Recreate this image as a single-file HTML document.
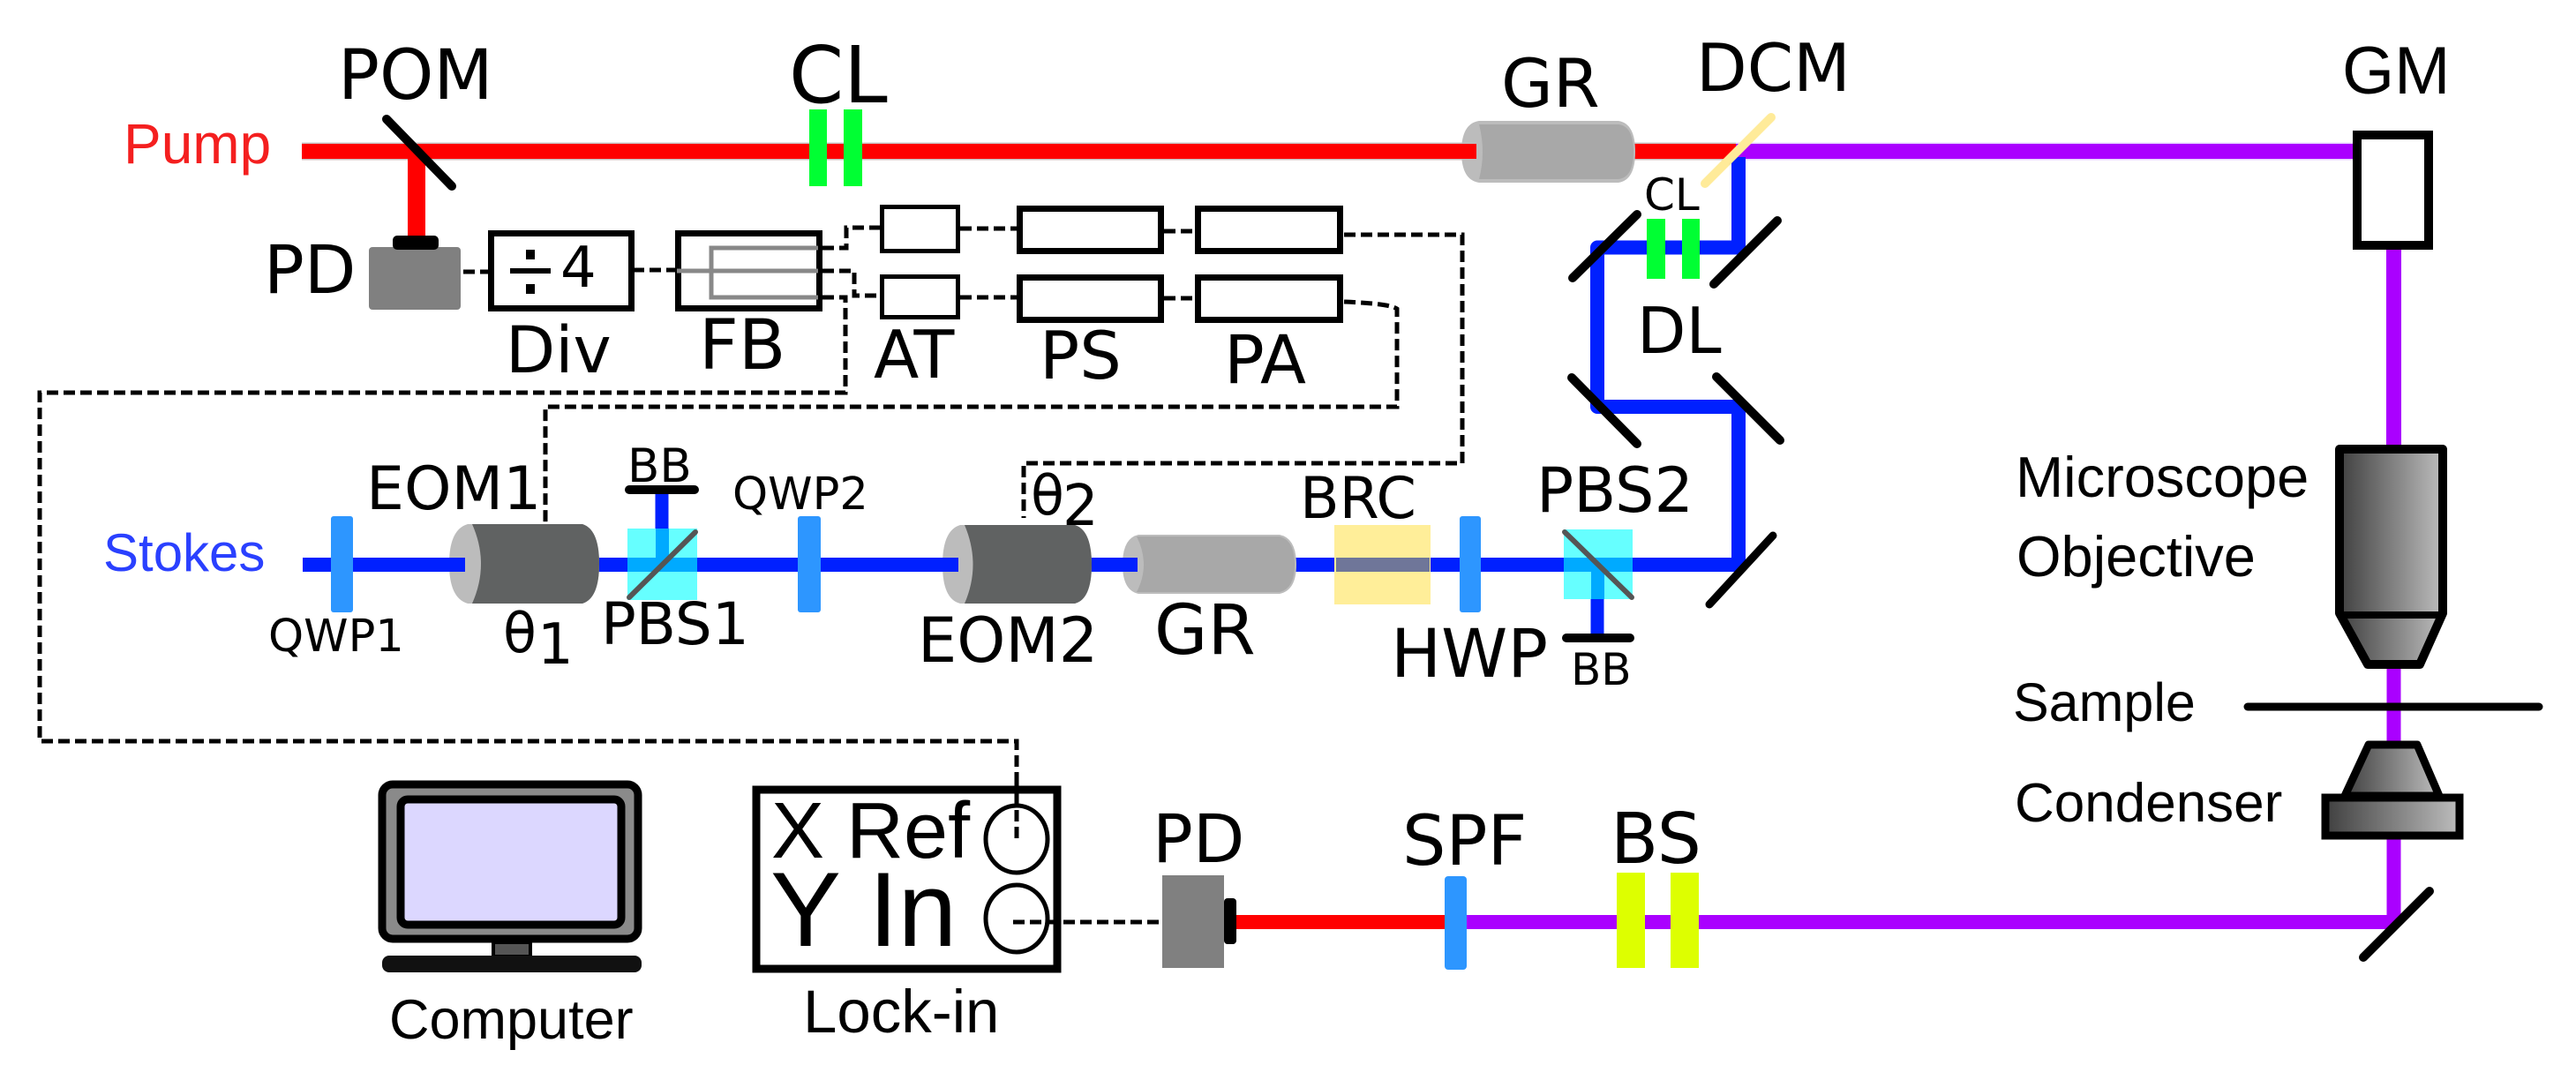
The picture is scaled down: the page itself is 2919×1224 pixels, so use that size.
<!DOCTYPE html>
<html>
<head>
<meta charset="utf-8">
<style>
html,body{margin:0;padding:0;background:#fff;}
svg{display:block;}
.d{font-family:"DejaVu Sans",sans-serif;fill:#000;}
.l{font-family:"Liberation Sans",sans-serif;fill:#000;}
.dash{fill:none;stroke:#000;stroke-width:5;stroke-dasharray:13 6;}
.box{fill:#fff;stroke:#000;}
</style>
</head>
<body>
<svg width="2919" height="1224" viewBox="0 0 2919 1224" xmlns="http://www.w3.org/2000/svg">
<defs>
<linearGradient id="g1" x1="0" x2="1" y1="0" y2="0"><stop offset="0" stop-color="#404040"/><stop offset="1" stop-color="#bdbdbd"/></linearGradient>
</defs>
<rect width="2919" height="1224" fill="#fff"/>

<!-- dashed signals -->
<path class="dash" d="M506 308H555"/>
<path class="dash" d="M717 306H767"/>
<path class="dash" d="M932 281H959V258H997"/>
<path class="dash" d="M932 307H968V335H994"/>
<path class="dash" d="M932 337H958V445H45V840H1152V956"/>
<path class="dash" d="M1523 342Q1575 344 1583 350V461H618V595"/>
<path class="dash" d="M1523 266H1657V525H1160V587"/>
<path class="dash" d="M1088 259H1152M1088 337H1152M1319 262H1354M1319 338H1354"/>
<path class="dash" d="M1148 1045H1317"/>

<!-- pump beam -->
<path d="M342 171.5H1967" stroke="#c9c0c0" stroke-width="20" fill="none"/>
<path d="M342 171.5H1967" stroke="#ff0000" stroke-width="17" fill="none"/>
<path d="M472 178V268" stroke="#ff0000" stroke-width="20" fill="none"/>
<path d="M1967 171.5H2668" stroke="#e6d2ff" stroke-width="20" fill="none"/>
<path d="M1967 171.5H2668" stroke="#aa00ff" stroke-width="17" fill="none"/>
<path d="M2712.5 283V505" stroke="#aa00ff" stroke-width="17" fill="none"/>
<path d="M2712.5 755V840M2712.5 950V1045" stroke="#aa00ff" stroke-width="16" fill="none"/>

<!-- delay line beams -->
<path d="M1970 178V280.5H1810V461H1970V640" stroke="#0020ff" stroke-width="16" fill="none" stroke-linejoin="round"/>

<!-- stokes beam -->
<path d="M343 640H1975" stroke="#0020ff" stroke-width="16" fill="none"/>
<path d="M750 558V640" stroke="#0020ff" stroke-width="15" fill="none"/>
<path d="M1810 640V720" stroke="#0020ff" stroke-width="15" fill="none"/>

<!-- bottom beams -->
<path d="M1401 1045H1640" stroke="#ff0000" stroke-width="16" fill="none"/>
<path d="M1650 1045H2716" stroke="#aa00ff" stroke-width="16" fill="none"/>

<!-- POM / PD -->
<path d="M438 135L512 211" stroke="#000" stroke-width="10" stroke-linecap="round"/>
<rect x="418" y="280" width="104" height="71" rx="4" fill="#808080"/>
<rect x="445" y="267" width="52" height="16" rx="5" fill="#000"/>

<!-- CL top -->
<rect x="917" y="124" width="20" height="87" fill="#00ff33"/>
<rect x="956" y="124" width="21" height="87" fill="#00ff33"/>

<!-- Div -->
<rect class="box" x="556.5" y="264.5" width="159" height="85" stroke-width="7"/>
<rect x="578" y="304" width="46" height="6" fill="#000"/>
<rect x="596" y="283" width="10" height="11" fill="#000"/>
<rect x="596" y="322" width="10" height="11" fill="#000"/>
<text class="d" x="635" y="325" font-size="64">4</text>

<!-- FB -->
<rect class="box" x="768.5" y="264.5" width="160" height="85" stroke-width="7"/>
<path d="M927 281H806V337H927M767 307H927" fill="none" stroke="#888" stroke-width="5"/>

<!-- AT PS PA -->
<rect class="box" x="999.5" y="234.5" width="86" height="50" stroke-width="5"/>
<rect class="box" x="999.5" y="313.5" width="86" height="46" stroke-width="5"/>
<rect class="box" x="1155.5" y="236.5" width="160" height="48" stroke-width="7"/>
<rect class="box" x="1155.5" y="314.5" width="160" height="48" stroke-width="7"/>
<rect class="box" x="1357.5" y="236.5" width="161" height="48" stroke-width="7"/>
<rect class="box" x="1357.5" y="314.5" width="161" height="48" stroke-width="7"/>

<!-- GR top -->
<path d="M1676 137H1834Q1853 140 1853 172Q1853 204 1834 207H1676Q1656 204 1656 172Q1656 140 1676 137Z" fill="#bcbcbc"/>
<path d="M1676 141H1834Q1851 143 1851 172Q1851 201 1834 203H1676Q1684 172 1676 141Z" fill="#a8a8a8"/>
<path d="M1656 171.5H1673" stroke="#ff0000" stroke-width="17"/>

<!-- DCM -->
<path d="M1932 208L2007 133" stroke="#ffeb99" stroke-width="10" stroke-linecap="round"/>

<!-- DL mirrors and lenses -->
<path d="M1782 315L1855 243M1942 322L2014 250M1781 428L1855 503M1945 427L2017 499" stroke="#000" stroke-width="10" stroke-linecap="round"/>
<rect x="1866" y="248" width="21" height="68" fill="#00ff33"/>
<rect x="1906" y="248" width="20" height="68" fill="#00ff33"/>
<path d="M2009 607L1937 685" stroke="#000" stroke-width="9" stroke-linecap="round"/>

<!-- GM -->
<rect class="box" x="2671" y="153" width="81" height="125" stroke-width="10"/>

<!-- Objective -->
<path d="M2651 509H2768V695L2742 753H2683L2651 695Z" fill="url(#g1)" stroke="#000" stroke-width="10" stroke-linejoin="round"/>
<path d="M2650 697H2769" stroke="#000" stroke-width="8"/>
<path d="M2547 801H2877" stroke="#000" stroke-width="9" stroke-linecap="round"/>
<path d="M2712.5 758V796M2712.5 806V840" stroke="#aa00ff" stroke-width="16"/>

<!-- Condenser -->
<path d="M2684 844H2739L2764 902H2657Z" fill="url(#g1)" stroke="#000" stroke-width="9" stroke-linejoin="round"/>
<rect x="2635" y="904" width="152" height="43" fill="url(#g1)" stroke="#000" stroke-width="9"/>
<path d="M2753 1010L2678 1085" stroke="#000" stroke-width="10" stroke-linecap="round"/>

<!-- QWP1 -->
<rect x="375" y="585" width="25" height="109" rx="3" fill="#2d96ff"/>

<!-- EOM1 -->
<path d="M530 594H660Q679 600 679 639Q679 678 660 684H530Q509 678 509 639Q509 600 530 594Z" fill="#bcbcbc"/>
<path d="M535 594H660Q679 600 679 639Q679 678 660 684H535Q555 639 535 594Z" fill="#606262"/>
<path d="M509 640H527" stroke="#0020ff" stroke-width="16"/>

<!-- PBS1 -->
<rect x="711" y="599" width="79" height="81" fill="#66ffff"/>
<rect x="711" y="632" width="79" height="16" fill="#00aaff"/>
<rect x="743" y="599" width="15" height="33" fill="#00aaff"/>
<path d="M788 603L713 677" stroke="#555" stroke-width="6" stroke-linecap="round"/>
<path d="M713 555H787" stroke="#000" stroke-width="10" stroke-linecap="round"/>

<!-- QWP2 -->
<rect x="904" y="585" width="26" height="109" rx="3" fill="#2d96ff"/>

<!-- EOM2 -->
<path d="M1088 595H1218Q1237 601 1237 640Q1237 679 1218 684H1088Q1068 679 1068 640Q1068 601 1088 595Z" fill="#bcbcbc"/>
<path d="M1093 595H1218Q1237 601 1237 640Q1237 679 1218 684H1093Q1112 640 1093 595Z" fill="#606262"/>
<path d="M1068 640H1086" stroke="#0020ff" stroke-width="16"/>

<!-- GR2 -->
<path d="M1290 606H1450Q1469 610 1469 640Q1469 669 1450 673H1290Q1272 669 1272 640Q1272 610 1290 606Z" fill="#bcbcbc"/>
<path d="M1288 608H1450Q1467 612 1467 640Q1467 667 1450 671H1288Q1304 640 1288 608Z" fill="#a8a8a8"/>
<path d="M1272 640H1289" stroke="#0020ff" stroke-width="16"/>

<!-- BRC -->
<rect x="1512" y="595" width="109" height="90" fill="#ffee99"/>
<rect x="1514" y="632" width="106" height="16" fill="#6f7699"/>

<!-- HWP -->
<rect x="1654" y="585" width="24" height="109" rx="3" fill="#2d96ff"/>

<!-- PBS2 -->
<rect x="1772" y="600" width="78" height="79" fill="#66ffff"/>
<rect x="1772" y="632" width="78" height="16" fill="#00aaff"/>
<rect x="1803" y="648" width="15" height="31" fill="#00aaff"/>
<path d="M1773 603L1849 677" stroke="#555" stroke-width="6" stroke-linecap="round"/>
<path d="M1775 723H1847" stroke="#000" stroke-width="10" stroke-linecap="round"/>

<!-- Computer -->
<rect x="433" y="889" width="290" height="175" rx="12" fill="#8a8a8a" stroke="#000" stroke-width="9"/>
<rect x="454" y="906" width="250" height="142" rx="8" fill="#dcd7ff" stroke="#000" stroke-width="9"/>
<rect x="559" y="1068" width="42" height="16" fill="#555" stroke="#000" stroke-width="4"/>
<rect x="433" y="1083" width="294" height="19" rx="8" fill="#111"/>

<!-- Lock-in -->
<rect class="box" x="857" y="895" width="341" height="203" stroke-width="9"/>
<ellipse cx="1152" cy="951" rx="35" ry="38" fill="none" stroke="#000" stroke-width="5"/>
<ellipse cx="1152" cy="1041" rx="35" ry="38" fill="none" stroke="#000" stroke-width="5"/>
<path d="M1152 880V956" class="dash"/>
<path d="M1148 1045H1200" class="dash"/>

<!-- PD2 -->
<rect x="1317" y="992" width="70" height="105" fill="#808080"/>
<rect x="1387" y="1018" width="14" height="52" rx="4" fill="#000"/>

<!-- SPF / BS -->
<rect x="1637" y="993" width="25" height="106" rx="4" fill="#2d96ff"/>
<rect x="1832" y="989" width="32" height="108" fill="#ddff00"/>
<rect x="1893" y="989" width="32" height="108" fill="#ddff00"/>

<!-- labels -->
<text class="l" x="140" y="185" font-size="64" style="fill:#f41f1f">Pump</text>
<text class="l" x="117" y="647" font-size="60" style="fill:#2a40ff">Stokes</text>
<text class="d" x="383" y="112" font-size="78">POM</text>
<text class="d" x="894" y="116" font-size="89">CL</text>
<text class="d" x="299" y="332" font-size="76">PD</text>
<text class="d" x="573" y="422" font-size="73">Div</text>
<text class="d" x="792" y="418" font-size="78">FB</text>
<text class="d" x="990" y="428" font-size="75">AT</text>
<text class="d" x="1178" y="429" font-size="75">PS</text>
<text class="d" x="1387" y="434" font-size="76">PA</text>
<text class="d" x="1701" y="121" font-size="76">GR</text>
<text class="d" x="1922" y="103" font-size="75">DCM</text>
<text class="d" x="1863" y="238" font-size="50">CL</text>
<text class="d" x="1855" y="400" font-size="72">DL</text>
<text class="l" x="2654" y="106" font-size="76">GM</text>
<text class="l" x="2284" y="563" font-size="65">Microscope</text>
<text class="l" x="2285" y="653" font-size="65">Objective</text>
<text class="l" x="2281" y="817" font-size="61">Sample</text>
<text class="l" x="2283" y="931" font-size="62">Condenser</text>
<text class="d" x="304" y="738" font-size="51">QWP1</text>
<text class="d" x="830" y="577" font-size="51">QWP2</text>
<text class="d" x="415" y="577" font-size="68">EOM1</text>
<text class="d" x="711" y="546" font-size="53">BB</text>
<text class="d" x="1780" y="776" font-size="50">BB</text>
<text class="d" x="570" y="739" font-size="62">θ</text>
<text class="d" x="609" y="752" font-size="64">1</text>
<text class="d" x="1168" y="583" font-size="62">θ</text>
<text class="d" x="1204" y="595" font-size="64">2</text>
<text class="d" x="681" y="730" font-size="66">PBS1</text>
<text class="d" x="1040" y="750" font-size="70">EOM2</text>
<text class="d" x="1308" y="741" font-size="78">GR</text>
<text class="d" x="1473" y="587" font-size="65">BRC</text>
<text class="d" x="1741" y="580" font-size="70">PBS2</text>
<text class="d" x="1576" y="767" font-size="76">HWP</text>
<text class="d" x="1306" y="977" font-size="76">PD</text>
<text class="d" x="1589" y="980" font-size="78">SPF</text>
<text class="d" x="1825" y="978" font-size="79">BS</text>
<text class="l" x="874" y="972" font-size="90">X Ref</text>
<text class="l" x="873" y="1072" font-size="120">Y In</text>
<text class="l" x="441" y="1177" font-size="63">Computer</text>
<text class="l" x="910" y="1170" font-size="69">Lock-in</text>
</svg>
</body>
</html>
